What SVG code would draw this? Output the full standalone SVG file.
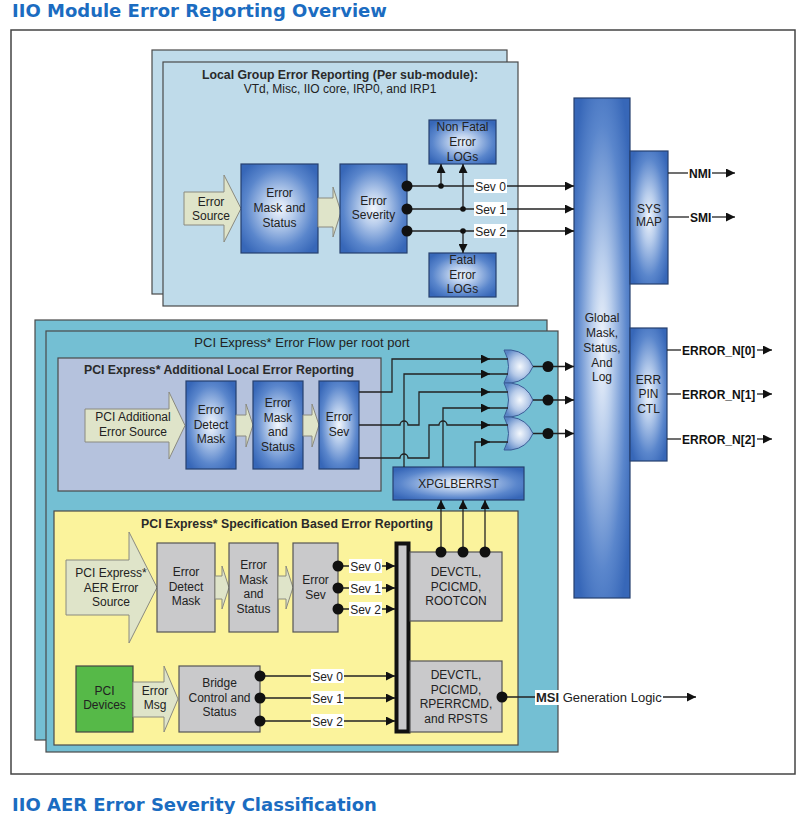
<svg xmlns="http://www.w3.org/2000/svg" width="806" height="814" viewBox="0 0 806 814">
<defs>
<style>
.t{font-family:"Liberation Sans",Arial,sans-serif;font-size:12px;fill:#222;text-anchor:middle}
.hb{font-family:"Liberation Sans",Arial,sans-serif;font-size:12.3px;font-weight:bold;fill:#2a2a2a;text-anchor:middle}
.ob{font-family:"Liberation Sans",Arial,sans-serif;font-size:12px;font-weight:bold;fill:#111}
.ttl{font-family:"DejaVu Sans",Verdana,sans-serif;font-size:18px;font-weight:bold;fill:#1b6cc1}
.blue{fill:url(#gBlue);stroke:#26406e;stroke-width:1.2}
.gate{fill:url(#gGate);stroke:#3a5c96;stroke-width:1}
.gray{fill:#c9c9cb;stroke:#555;stroke-width:1.2}
.pale{fill:#dfe4c9;stroke:#8a8a80;stroke-width:1}
.ln{fill:none;stroke:#222;stroke-width:1.3}
.dot{fill:#111}
.lb{fill:#fff}
</style>
<radialGradient id="gBlue" cx="0.5" cy="0.5" r="0.62">
<stop offset="0" stop-color="#f2f6fc"/>
<stop offset="0.3" stop-color="#b8cdec"/>
<stop offset="0.72" stop-color="#5a86cc"/>
<stop offset="1" stop-color="#3767b8"/>
</radialGradient>
<radialGradient id="gGate" cx="0.55" cy="0.5" r="0.6">
<stop offset="0" stop-color="#f4f8fd"/>
<stop offset="0.5" stop-color="#b7cbe9"/>
<stop offset="1" stop-color="#5b86c6"/>
</radialGradient>
<marker id="ah" viewBox="0 0 10 10" refX="10" refY="5" markerWidth="10" markerHeight="9" orient="auto" markerUnits="userSpaceOnUse">
<path d="M0,0L10,5L0,10z" fill="#111"/>
</marker>
</defs>

<rect width="806" height="814" fill="#fff"/>
<text class="ttl" x="12" y="17">IIO Module Error Reporting Overview</text>
<rect x="11" y="30" width="784" height="744" fill="#fff" stroke="#444" stroke-width="1.5"/>
<text class="ttl" x="12" y="811">IIO AER Error Severity Classification</text>

<!-- Local group panel -->
<g id="local-group">
<rect x="152" y="50" width="355" height="244" fill="#bfdbea" stroke="#4a4a4a" stroke-width="1.2"/>
<rect x="163" y="62" width="355" height="244" fill="#bfdbea" stroke="#4a4a4a" stroke-width="1.2"/>
<text class="hb" x="340" y="79">Local Group Error Reporting (Per sub-module):</text>
<text class="t" x="340" y="93">VTd, Misc, IIO core, IRP0, and IRP1</text>
</g>
<g id="error-source">
<path class="pale" d="M184,192H224V175L241,208.5L224,242V225H184Z"/>
<text class="t" x="211" y="206">Error<tspan x="211" dy="14">Source</tspan></text>
</g>
<g id="error-mask-status">
<rect class="blue" x="241" y="164" width="77" height="89"/>
<text class="t" x="279.5" y="197">Error<tspan x="279.5" dy="15">Mask and</tspan><tspan x="279.5" dy="15">Status</tspan></text>
</g>
<path class="pale" d="M318,198H333V187L341,212L333,237V227H318Z"/>
<g id="error-severity">
<rect class="blue" x="340" y="164" width="67" height="89"/>
<text class="t" x="373.5" y="205">Error<tspan x="373.5" dy="14">Severity</tspan></text>
</g>
<g id="nonfatal-logs">
<rect class="blue" x="429" y="120" width="67" height="44"/>
<text class="t" x="462.5" y="131">Non Fatal<tspan x="462.5" dy="15">Error</tspan><tspan x="462.5" dy="15">LOGs</tspan></text>
</g>
<g id="fatal-logs">
<rect class="blue" x="429" y="253" width="67" height="44"/>
<text class="t" x="462.5" y="264">Fatal<tspan x="462.5" dy="15">Error</tspan><tspan x="462.5" dy="14">LOGs</tspan></text>
</g>

<!-- Global -->
<g id="global-mask">
<rect class="blue" x="574" y="98" width="56" height="500"/>
<text class="t" x="602" y="322">Global<tspan x="602" dy="15">Mask,</tspan><tspan x="602" dy="15">Status,</tspan><tspan x="602" dy="15">And</tspan><tspan x="602" dy="14">Log</tspan></text>
</g>
<g id="sys-map">
<rect class="blue" x="630" y="151" width="38" height="133"/>
<text class="t" x="649" y="213">SYS<tspan x="649" dy="13">MAP</tspan></text>
</g>
<g id="err-pin-ctl">
<rect class="blue" x="630" y="328" width="37" height="133"/>
<text class="t" x="648.5" y="384">ERR<tspan x="648.5" dy="14">PIN</tspan><tspan x="648.5" dy="15">CTL</tspan></text>
</g>

<!-- PCIe panels -->
<g id="pcie-flow">
<rect x="35" y="320" width="512" height="420" fill="#74bfd3" stroke="#4a4a4a" stroke-width="1.2"/>
<rect x="46" y="331" width="512" height="421" fill="#74bfd3" stroke="#4a4a4a" stroke-width="1.2"/>
<text class="t" x="302" y="346.5" style="font-size:13px">PCI Express* Error Flow per root port</text>
</g>
<g id="pcie-additional">
<rect x="58" y="358" width="323" height="133" fill="#b5c2dd" stroke="#4a4a4a" stroke-width="1.2"/>
<text class="hb" x="219" y="373.5">PCI Express* Additional Local Error Reporting</text>
</g>
<g id="pci-additional-source">
<path class="pale" d="M85,409H169V392L185,425.5L169,459V442H85Z"/>
<text class="t" x="133" y="421">PCI Additional<tspan x="133" dy="15">Error Source</tspan></text>
</g>
<g id="add-error-detect">
<rect class="blue" x="186" y="381" width="50" height="88"/>
<text class="t" x="211" y="414">Error<tspan x="211" dy="15">Detect</tspan><tspan x="211" dy="14">Mask</tspan></text>
</g>
<path class="pale" d="M236,415H246V404L253,425L246,447V436H236Z"/>
<g id="add-error-mask">
<rect class="blue" x="253" y="381" width="50" height="88"/>
<text class="t" x="278" y="407">Error<tspan x="278" dy="14.5">Mask</tspan><tspan x="278" dy="14.5">and</tspan><tspan x="278" dy="15">Status</tspan></text>
</g>
<path class="pale" d="M303,415H312V404L319,425L312,447V436H303Z"/>
<g id="add-error-sev">
<rect class="blue" x="319" y="381" width="40" height="88"/>
<text class="t" x="339" y="421">Error<tspan x="339" dy="15">Sev</tspan></text>
</g>
<g id="xpglberrst">
<rect class="blue" x="393" y="467" width="131" height="33"/>
<text class="t" x="458.5" y="488">XPGLBERRST</text>
</g>
<g id="or-gates">
<path class="gate" d="M504,350H511Q527,352 533,366.5Q527,381 511,383H504Q513,366.5 504,350Z"/>
<path class="gate" d="M504,383H511Q527,385 533,400Q527,415 511,417H504Q513,400 504,383Z"/>
<path class="gate" d="M504,417H511Q527,419 533,433.5Q527,448 511,450H504Q513,433.5 504,417Z"/>
</g>

<!-- Spec based -->
<g id="pcie-spec">
<rect x="54" y="511" width="464" height="234" fill="#fbf39c" stroke="#4a4a4a" stroke-width="1.2"/>
<text class="hb" x="287" y="527.5">PCI Express* Specification Based Error Reporting</text>
</g>
<g id="aer-source">
<path class="pale" d="M66,560H129V532L157,587.5L129,643V615H66Z"/>
<text class="t" x="111" y="577">PCI Express*<tspan x="111" dy="14.5">AER Error</tspan><tspan x="111" dy="14.5">Source</tspan></text>
</g>
<g id="spec-error-detect">
<rect class="gray" x="157" y="543" width="58" height="89"/>
<text class="t" x="186" y="576">Error<tspan x="186" dy="14.5">Detect</tspan><tspan x="186" dy="14.5">Mask</tspan></text>
</g>
<path class="pale" d="M215,576H222V566L229,587.5L222,609V599H215Z"/>
<g id="spec-error-mask">
<rect class="gray" x="229" y="543" width="49" height="89"/>
<text class="t" x="253.5" y="569">Error<tspan x="253.5" dy="14.5">Mask</tspan><tspan x="253.5" dy="14.5">and</tspan><tspan x="253.5" dy="14.5">Status</tspan></text>
</g>
<path class="pale" d="M278,576H286V566L293,587.5L286,609V599H278Z"/>
<g id="spec-error-sev">
<rect class="gray" x="293" y="543" width="45" height="89"/>
<text class="t" x="315.5" y="584">Error<tspan x="315.5" dy="15">Sev</tspan></text>
</g>
<g id="bus">
<rect x="396.5" y="543.5" width="12" height="188" fill="#c9c9cb" stroke="#111" stroke-width="4"/>
</g>
<g id="devctl-rootcon">
<rect class="gray" x="410" y="552" width="92" height="69"/>
<text class="t" x="456" y="576">DEVCTL,<tspan x="456" dy="14.5">PCICMD,</tspan><tspan x="456" dy="14.5">ROOTCON</tspan></text>
</g>
<g id="devctl-rperrcmd">
<rect class="gray" x="410" y="661" width="92" height="71"/>
<text class="t" x="456" y="679">DEVCTL,<tspan x="456" dy="14.5">PCICMD,</tspan><tspan x="456" dy="14.5">RPERRCMD,</tspan><tspan x="456" dy="14.5">and RPSTS</tspan></text>
</g>
<g id="pci-devices">
<rect x="76" y="666" width="57" height="66" fill="#56b948" stroke="#444" stroke-width="1.2"/>
<text class="t" x="104.5" y="695">PCI<tspan x="104.5" dy="14">Devices</tspan></text>
</g>
<g id="error-msg">
<path class="pale" d="M133,682H164V666L178,699L164,732V717H133Z"/>
<text class="t" x="155" y="695">Error<tspan x="155" dy="14">Msg</tspan></text>
</g>
<g id="bridge-control">
<rect class="gray" x="179" y="666" width="81" height="66"/>
<text class="t" x="219.5" y="687">Bridge<tspan x="219.5" dy="14.5">Control and</tspan><tspan x="219.5" dy="14.5">Status</tspan></text>
</g>

<!-- Connectors -->
<g id="connectors">
<path class="ln" d="M407,186H574" marker-end="url(#ah)"/>
<path class="ln" d="M407,209H574" marker-end="url(#ah)"/>
<path class="ln" d="M407,231H574" marker-end="url(#ah)"/>
<path class="ln" d="M441,186V164" marker-end="url(#ah)"/>
<path class="ln" d="M463,209V164" marker-end="url(#ah)"/>
<path class="ln" d="M463,231V253" marker-end="url(#ah)"/>
<circle class="dot" cx="441" cy="186" r="2.8"/>
<circle class="dot" cx="463" cy="209" r="2.8"/>
<circle class="dot" cx="463" cy="231" r="2.8"/>
<circle class="dot" cx="407" cy="186" r="5.5"/>
<circle class="dot" cx="407" cy="209" r="5.5"/>
<circle class="dot" cx="407" cy="231" r="5.5"/>
<rect class="lb" x="474" y="179" width="33" height="14"/>
<rect class="lb" x="474" y="202" width="33" height="14"/>
<rect class="lb" x="474" y="224" width="33" height="14"/>
<text class="t" x="490.5" y="190.5">Sev 0</text>
<text class="t" x="490.5" y="213.5">Sev 1</text>
<text class="t" x="490.5" y="235.5">Sev 2</text>

<path class="ln" d="M668,173H688"/>
<text class="ob" x="689" y="177.5">NMI</text>
<path class="ln" d="M712,173H735" marker-end="url(#ah)"/>
<path class="ln" d="M668,217H689"/>
<text class="ob" x="690" y="221.5">SMI</text>
<path class="ln" d="M712,217H735" marker-end="url(#ah)"/>
<path class="ln" d="M667,350H681"/>
<text class="ob" x="682" y="354.5">ERROR_N[0]</text>
<path class="ln" d="M757,350H772" marker-end="url(#ah)"/>
<path class="ln" d="M667,394H681"/>
<text class="ob" x="682" y="398.5">ERROR_N[1]</text>
<path class="ln" d="M757,394H772" marker-end="url(#ah)"/>
<path class="ln" d="M667,439H681"/>
<text class="ob" x="682" y="443.5">ERROR_N[2]</text>
<path class="ln" d="M757,439H772" marker-end="url(#ah)"/>

<path class="ln" d="M359,392H392V359H490" marker-end="url(#ah)"/>
<path class="ln" d="M404,467V374H490" marker-end="url(#ah)"/>
<path class="ln" d="M359,425H400a4,4 0 0 1 8,0H419V392H490" marker-end="url(#ah)"/>
<path class="ln" d="M443,467V408H490" marker-end="url(#ah)"/>
<path class="ln" d="M359,458H400a4,4 0 0 1 8,0H429V425H439a4,4 0 0 1 8,0H490" marker-end="url(#ah)"/>
<path class="ln" d="M475,467V442H490" marker-end="url(#ah)"/>
<path class="ln" d="M489,359H508M489,374H508M489,392H508M489,408H508M489,425H508M489,442H508"/>
<path class="ln" d="M533,366.5H574" marker-end="url(#ah)"/>
<path class="ln" d="M533,400H574" marker-end="url(#ah)"/>
<path class="ln" d="M533,433.5H574" marker-end="url(#ah)"/>
<circle class="dot" cx="548" cy="366.5" r="5.5"/>
<circle class="dot" cx="548" cy="400" r="5.5"/>
<circle class="dot" cx="548" cy="433.5" r="5.5"/>

<path class="ln" d="M441,552V500" marker-end="url(#ah)"/>
<path class="ln" d="M463,552V500" marker-end="url(#ah)"/>
<path class="ln" d="M485,552V500" marker-end="url(#ah)"/>
<circle class="dot" cx="441" cy="552" r="5.5"/>
<circle class="dot" cx="463" cy="552" r="5.5"/>
<circle class="dot" cx="485" cy="552" r="5.5"/>

<path class="ln" d="M338,566H395" marker-end="url(#ah)"/>
<path class="ln" d="M338,588H395" marker-end="url(#ah)"/>
<path class="ln" d="M338,609H395" marker-end="url(#ah)"/>
<circle class="dot" cx="338" cy="566" r="5.5"/>
<circle class="dot" cx="338" cy="588" r="5.5"/>
<circle class="dot" cx="338" cy="609" r="5.5"/>
<rect class="lb" x="349" y="559" width="33" height="14"/>
<rect class="lb" x="349" y="581" width="33" height="14"/>
<rect class="lb" x="349" y="602" width="33" height="14"/>
<text class="t" x="365.5" y="570.5">Sev 0</text>
<text class="t" x="365.5" y="592.5">Sev 1</text>
<text class="t" x="365.5" y="613.5">Sev 2</text>

<path class="ln" d="M260,676H395" marker-end="url(#ah)"/>
<path class="ln" d="M260,698H395" marker-end="url(#ah)"/>
<path class="ln" d="M260,721H395" marker-end="url(#ah)"/>
<circle class="dot" cx="260" cy="676" r="5.5"/>
<circle class="dot" cx="260" cy="698" r="5.5"/>
<circle class="dot" cx="260" cy="721" r="5.5"/>
<rect class="lb" x="311" y="669" width="33" height="14"/>
<rect class="lb" x="311" y="691" width="33" height="14"/>
<rect class="lb" x="311" y="714" width="33" height="14"/>
<text class="t" x="327.5" y="680.5">Sev 0</text>
<text class="t" x="327.5" y="702.5">Sev 1</text>
<text class="t" x="327.5" y="725.5">Sev 2</text>

<path class="ln" d="M502,697H696" marker-end="url(#ah)"/>
<circle class="dot" cx="502" cy="697" r="5.5"/>
<rect class="lb" x="535" y="690" width="128" height="15"/>
<text class="t" x="536" y="701.5" style="text-anchor:start;font-size:13px"><tspan font-weight="bold">MSI</tspan> Generation Logic</text>
</g>
</svg>
